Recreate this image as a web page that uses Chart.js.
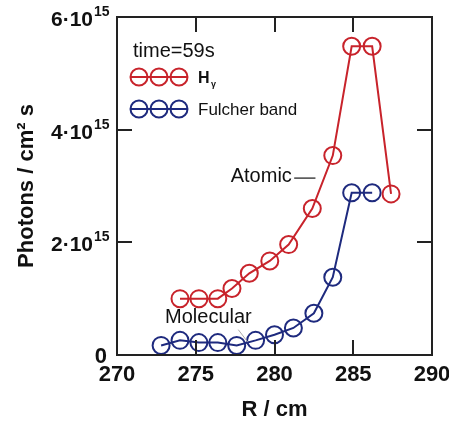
<!DOCTYPE html>
<html>
<head>
<meta charset="utf-8">
<script src="https://cdn.jsdelivr.net/npm/chart.js@4/dist/chart.umd.min.js"></script>
<style>
body { margin: 0; background: #fff; }
canvas { display: block; }
</style>
</head>
<body>
<canvas id="photons" width="449" height="432"></canvas>
<script>
var FONT = '"Liberation Sans", Arial, sans-serif'
var RED = '#c8232b'
var BLUE = '#1e2a7e'

// H-gamma (atomic)
var atomicR = [274.0, 275.2, 276.4, 277.3, 278.4, 279.7, 280.9, 282.4, 283.7, 284.9, 286.2, 287.4]
var atomicVal = [1.0, 1.0, 1.0, 1.18, 1.45, 1.67, 1.96, 2.60, 3.54, 5.48, 5.48, 2.86]
// Fulcher band (molecular)
var molR = [272.8, 274.0, 275.2, 276.4, 277.6, 278.8, 280.0, 281.2, 282.5, 283.7, 284.9, 286.2]
var molVal = [0.17, 0.26, 0.22, 0.22, 0.17, 0.26, 0.36, 0.48, 0.74, 1.38, 2.88, 2.88]
var scaleFactor = 1e15

var yTicks = [0, 2e15, 4e15, 6e15]
var yTickText = ['0', '2·10', '4·10', '6·10']
var yTickExp = ['', '15', '15', '15']
var seriesNames = ['H', 'Fulcher band']
var legendTitle = 'time=59s'

function toPoints(xs, ys){
    var pts = []
    for (var i = 0; i < xs.length; i++) {
        pts.push({x: xs[i], y: ys[i] * scaleFactor})
    }
    return pts
}

var framePlugin = {
    id: 'framePlugin',
    afterDraw: function(chart){
        var ctx = chart.ctx
        var a = chart.chartArea
        var xs = chart.scales.x
        var ys = chart.scales.y
        ctx.save()
        ctx.strokeStyle = '#222'
        ctx.lineWidth = 2
        ctx.strokeRect(a.left, a.top, a.right - a.left, a.bottom - a.top)
        // inward ticks on all four sides
        var tl = 15
        ctx.beginPath()
        xs.ticks.forEach(function(t){
            if (t.value <= xs.min || t.value >= xs.max) return
            var px = Math.round(xs.getPixelForValue(t.value))
            ctx.moveTo(px, a.bottom); ctx.lineTo(px, a.bottom - tl)
            ctx.moveTo(px, a.top); ctx.lineTo(px, a.top + tl)
        })
        yTicks.forEach(function(v){
            if (v <= ys.min || v >= ys.max) return
            var py = Math.round(ys.getPixelForValue(v))
            ctx.moveTo(a.left, py); ctx.lineTo(a.left + tl, py)
            ctx.moveTo(a.right, py); ctx.lineTo(a.right - tl, py)
        })
        ctx.stroke()

        // y tick labels with superscript exponent
        ctx.fillStyle = '#111'
        ctx.textBaseline = 'alphabetic'
        for (var i = 0; i < yTicks.length; i++) {
            var py = ys.getPixelForValue(yTicks[i])
            if (yTickExp[i] === '') {
                ctx.font = 'bold 22px ' + FONT
                ctx.textAlign = 'right'
                ctx.fillText(yTickText[i], a.left - 10, py + 8)
            } else {
                ctx.font = 'bold 21px ' + FONT
                ctx.textAlign = 'right'
                ctx.fillText(yTickText[i], a.left - 24, py + 9)
                ctx.font = 'bold 14px ' + FONT
                ctx.textAlign = 'left'
                ctx.fillText(yTickExp[i], a.left - 23, py - 1)
            }
        }

        // legend
        var lx = a.left + 11, rows = [a.top + 60, a.top + 92], cols = [RED, BLUE]
        ctx.font = '20px ' + FONT
        ctx.textAlign = 'left'
        ctx.fillText(legendTitle, a.left + 16, a.top + 40)
        ctx.lineWidth = 2
        for (var r = 0; r < rows.length; r++) {
            ctx.strokeStyle = cols[r]
            ctx.beginPath()
            ctx.moveTo(lx + 2, rows[r]); ctx.lineTo(lx + 60, rows[r])
            ctx.stroke()
            for (var k = 0; k < 3; k++) {
                ctx.beginPath()
                ctx.arc(lx + 11 + k * 20, rows[r], 8.5, 0, Math.PI * 2)
                ctx.stroke()
            }
        }
        ctx.fillStyle = '#111'
        ctx.font = 'bold 16px ' + FONT
        ctx.fillText(seriesNames[0], a.left + 81, rows[0] + 6)
        ctx.font = 'bold 9px ' + FONT
        ctx.fillText('γ', a.left + 94, rows[0] + 10)
        ctx.font = '17px ' + FONT
        ctx.fillText(seriesNames[1], a.left + 81, rows[1] + 6)

        // annotations
        ctx.font = '20px ' + FONT
        ctx.textAlign = 'right'
        ctx.textBaseline = 'middle'
        ctx.fillText('Atomic', xs.getPixelForValue(281.1), ys.getPixelForValue(3.17e15))
        ctx.strokeStyle = '#444'
        ctx.lineWidth = 1.5
        ctx.beginPath()
        ctx.moveTo(xs.getPixelForValue(281.25), ys.getPixelForValue(3.14e15))
        ctx.lineTo(xs.getPixelForValue(282.6), ys.getPixelForValue(3.14e15))
        ctx.stroke()
        ctx.textAlign = 'left'
        ctx.fillText('Molecular', xs.getPixelForValue(273.05), ys.getPixelForValue(0.665e15))
        ctx.strokeStyle = '#aaa'
        ctx.lineWidth = 1
        ctx.beginPath()
        ctx.moveTo(xs.getPixelForValue(277.7), ys.getPixelForValue(0.45e15))
        ctx.lineTo(xs.getPixelForValue(278.3), ys.getPixelForValue(0.23e15))
        ctx.stroke()
        ctx.restore()
    }
}

var ctx = document.getElementById('photons')
var myChart = new Chart(ctx, {
    type: 'line',
    data: {
        datasets: [
            {
                label: 'H-gamma',
                data: toPoints(atomicR, atomicVal),
                borderColor: RED,
                borderWidth: 2,
                pointRadius: 8.5,
                pointBorderWidth: 2,
                pointBackgroundColor: 'rgba(0,0,0,0)',
                pointBorderColor: RED,
                tension: 0
            },
            {
                label: 'Fulcher band',
                data: toPoints(molR, molVal),
                borderColor: BLUE,
                borderWidth: 2,
                pointRadius: 8.5,
                pointBorderWidth: 2,
                pointBackgroundColor: 'rgba(0,0,0,0)',
                pointBorderColor: BLUE,
                tension: 0
            }
        ]
    },
    options: {
        responsive: false,
        animation: false,
        layout: { padding: { left: 0, right: 17, top: 17, bottom: 0 } },
        plugins: {
            legend: { display: false },
            tooltip: { enabled: false }
        },
        scales: {
            x: {
                type: 'linear',
                min: 270,
                max: 290,
                ticks: {
                    stepSize: 5,
                    maxRotation: 0,
                    padding: 7,
                    color: '#111',
                    font: { family: FONT, size: 22, weight: 'bold' }
                },
                grid: { display: false, drawTicks: false },
                border: { display: false },
                title: {
                    display: true,
                    text: 'R / cm',
                    color: '#111',
                    font: { family: FONT, size: 22, weight: 'bold' },
                    padding: { top: 0, bottom: 9 }
                },
                afterFit: function(s){
                    s.height = 77
                    s.paddingLeft = 0
                    s.paddingRight = 0
                }
            },
            y: {
                min: 0,
                max: 6e15,
                ticks: { stepSize: 2e15, display: false },
                grid: { display: false, drawTicks: false },
                border: { display: false },
                title: {
                    display: true,
                    text: 'Photons / cm² s',
                    color: '#111',
                    font: { family: FONT, size: 22, weight: 'bold' },
                    padding: { top: 14, bottom: 0 }
                },
                afterFit: function(s){
                    s.width = 117
                    s.paddingTop = 0
                    s.paddingBottom = 0
                }
            }
        }
    },
    plugins: [framePlugin]
})
</script>
</body>
</html>
